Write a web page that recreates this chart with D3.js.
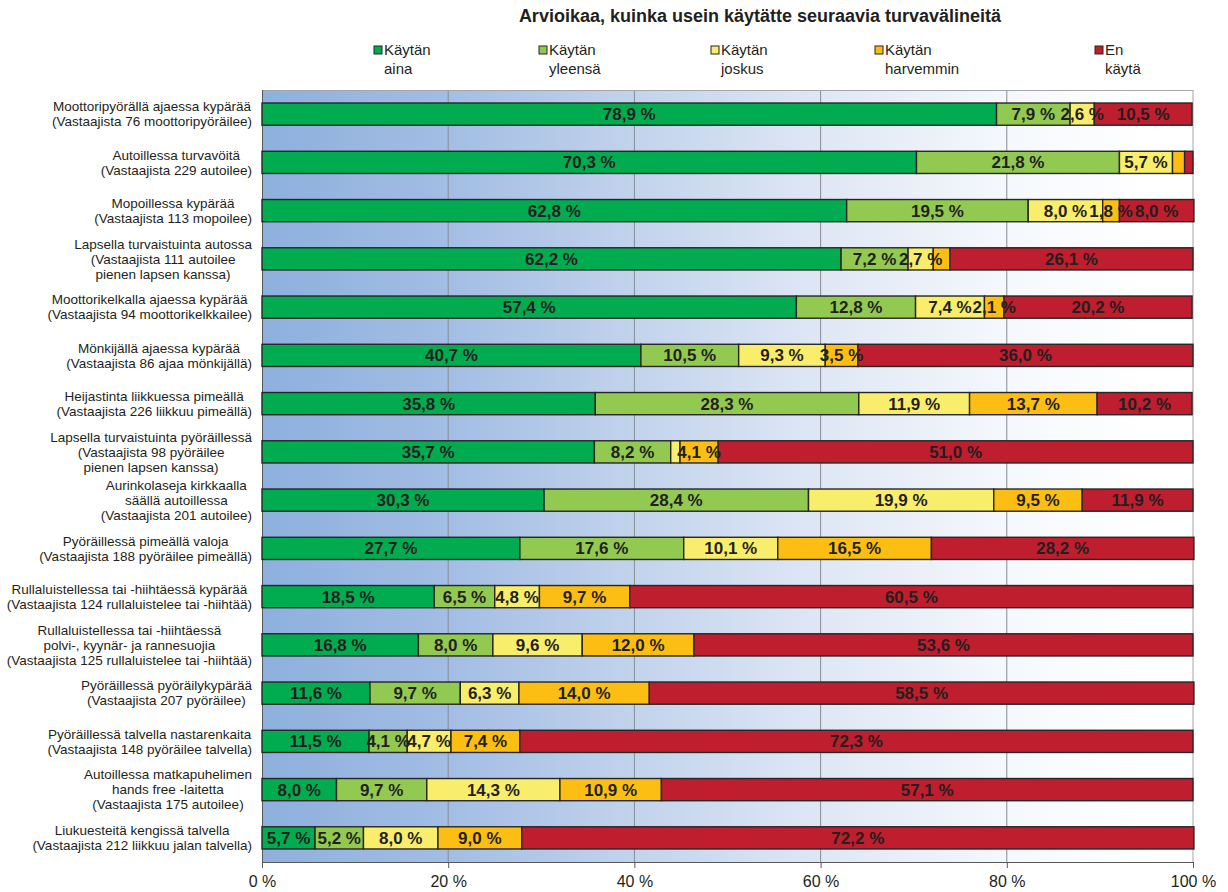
<!DOCTYPE html>
<html>
<head>
<meta charset="utf-8">
<script src="https://cdn.jsdelivr.net/npm/d3@7"></script>
<style>
  html, body { margin: 0; padding: 0; background: #ffffff; }
  svg { display: block; font-family: "Liberation Sans", Arial, sans-serif; }
</style>
</head>
<body>
<svg id="chart" width="1228" height="892"></svg>
<script>
const title = "Arvioikaa, kuinka usein käytätte seuraavia turvavälineitä";

const categories = [
  "Moottoripyörällä ajaessa kypärää\n(Vastaajista 76 moottoripyöräilee)",
  "Autoillessa turvavöitä\n(Vastaajista 229 autoilee)",
  "Mopoillessa kypärää\n(Vastaajista 113 mopoilee)",
  "Lapsella turvaistuinta autossa\n(Vastaajista 111 autoilee\npienen lapsen kanssa)",
  "Moottorikelkalla ajaessa kypärää\n(Vastaajista 94 moottorikelkkailee)",
  "Mönkijällä ajaessa kypärää\n(Vastaajista 86 ajaa mönkijällä)",
  "Heijastinta liikkuessa pimeällä\n(Vastaajista 226 liikkuu pimeällä)",
  "Lapsella turvaistuinta pyöräillessä\n(Vastaajista 98 pyöräilee\npienen lapsen kanssa)",
  "Aurinkolaseja kirkkaalla\nsäällä autoillessa\n(Vastaajista 201 autoilee)",
  "Pyöräillessä pimeällä valoja\n(Vastaajista 188 pyöräilee pimeällä)",
  "Rullaluistellessa tai -hiihtäessä kypärää\n(Vastaajista 124 rullaluistelee tai -hiihtää)",
  "Rullaluistellessa tai -hiihtäessä\npolvi-, kyynär- ja rannesuojia\n(Vastaajista 125 rullaluistelee tai -hiihtää)",
  "Pyöräillessä pyöräilykypärää\n(Vastaajista 207 pyöräilee)",
  "Pyöräillessä talvella nastarenkaita\n(Vastaajista 148 pyöräilee talvella)",
  "Autoillessa matkapuhelimen\nhands free -laitetta\n(Vastaajista 175 autoilee)",
  "Liukuesteitä kengissä talvella\n(Vastaajista 212 liikkuu jalan talvella)"
];

const seriesNames = ["Käytän\naina", "Käytän\nyleensä", "Käytän\njoskus", "Käytän\nharvemmin", "En\nkäytä"];

const kaytanAina      = [78.9, 70.3, 62.8, 62.2, 57.4, 40.7, 35.8, 35.7, 30.3, 27.7, 18.5, 16.8, 11.6, 11.5, 8.0, 5.7];
const kaytanYleensa   = [7.9, 21.8, 19.5, 7.2, 12.8, 10.5, 28.3, 8.2, 28.4, 17.6, 6.5, 8.0, 9.7, 4.1, 9.7, 5.2];
const kaytanJoskus    = [2.6, 5.7, 8.0, 2.7, 7.4, 9.3, 11.9, 1.0, 19.9, 10.1, 4.8, 9.6, 6.3, 4.7, 14.3, 8.0];
const kaytanHarvemmin = [0.0, 1.3, 1.8, 1.8, 2.1, 3.5, 13.7, 4.1, 9.5, 16.5, 9.7, 12.0, 14.0, 7.4, 10.9, 9.0];
const enKayta         = [10.5, 0.9, 8.0, 26.1, 20.2, 36.0, 10.2, 51.0, 11.9, 28.2, 60.5, 53.6, 58.5, 72.3, 57.1, 72.2];

// [row, series] pairs whose data label is not shown in the original
const hiddenLabels = [[0, 3], [1, 3], [1, 4], [3, 3], [7, 2]];

const tickValues = [0, 20, 40, 60, 80, 100];

const seriesValues = [kaytanAina, kaytanYleensa, kaytanJoskus, kaytanHarvemmin, enKayta];
const colors = ["#00ac4f", "#92c951", "#f9ee6c", "#fdbe14", "#be1e2d"];
const ink = "#231f20";

const svg = d3.select("#chart");
const pLeft = 262, pRight = 1193, pTop = 90, pBottom = 862;

const x = d3.scaleLinear().domain([0, 100]).range([pLeft, pRight]);
const y = d3.scaleBand().domain(d3.range(categories.length)).range([pTop, pBottom])
  .paddingInner(0.54).paddingOuter(0.27);

// background gradient
const defs = svg.append("defs");
const grad = defs.append("linearGradient").attr("id", "bg")
  .attr("gradientUnits", "userSpaceOnUse")
  .attr("x1", pLeft).attr("x2", pRight).attr("y1", 0).attr("y2", 0);
[[0, "#8db0dd"], [0.2, "#a3bde4"], [0.4, "#c2d3ec"], [0.6, "#dfe7f5"], [0.8, "#f5f8fc"], [0.95, "#ffffff"], [1, "#ffffff"]]
  .forEach(([o, c]) => grad.append("stop").attr("offset", o).attr("stop-color", c));

svg.append("rect").attr("x", pLeft).attr("y", pTop).attr("width", pRight - pLeft).attr("height", pBottom - pTop)
  .attr("fill", "url(#bg)");

// gridlines
svg.append("g").selectAll("line").data(tickValues.slice(1)).join("line")
  .attr("x1", d => x(d)).attr("x2", d => x(d)).attr("y1", pTop).attr("y2", pBottom)
  .attr("stroke", d => d === 100 ? "#a6a6a6" : "#878c96").attr("stroke-width", 1);

// top border
svg.append("line").attr("x1", pLeft).attr("x2", pRight).attr("y1", pTop + 0.5).attr("y2", pTop + 0.5)
  .attr("stroke", "#a6a6a6");

// x axis
const xAxis = d3.axisBottom(x).tickValues(tickValues).tickSize(6).tickPadding(8)
  .tickFormat(d => d + " %");
const ax = svg.append("g").attr("transform", `translate(0,${pBottom})`).call(xAxis);
ax.select(".domain").attr("stroke", "#595959");
ax.selectAll(".tick line").attr("stroke", "#595959");
ax.selectAll(".tick text").attr("font-size", 16).attr("fill", ink).attr("font-family", "Liberation Sans, Arial, sans-serif");

// left axis line
svg.append("line").attr("x1", pLeft + 0.5).attr("x2", pLeft + 0.5).attr("y1", pTop).attr("y2", pBottom)
  .attr("stroke", "#595959");

// stacked data
const rows = categories.map((c, i) => {
  let acc = 0;
  return seriesValues.map((s, k) => {
    const seg = { row: i, k, v: s[i], x0: acc, x1: acc + s[i] };
    acc += s[i];
    return seg;
  });
});
const segs = rows.flat();

const bars = svg.append("g");
bars.selectAll("rect").data(segs.filter(d => d.v > 0)).join("rect")
  .attr("x", d => x(d.x0)).attr("width", d => x(d.x1) - x(d.x0))
  .attr("y", d => y(d.row)).attr("height", y.bandwidth())
  .attr("fill", d => colors[d.k]).attr("stroke", "#262626").attr("stroke-width", 1.4);

const fmt = d3.format(".1f");
const isHidden = d => d.v <= 0 || hiddenLabels.some(([r, k]) => r === d.row && k === d.k);
svg.append("g").selectAll("text").data(segs.filter(d => !isHidden(d))).join("text")
  .attr("x", d => x((d.x0 + d.x1) / 2))
  .attr("y", d => y(d.row) + y.bandwidth() / 2)
  .attr("dy", "0.36em")
  .attr("text-anchor", "middle")
  .attr("font-size", 17).attr("font-weight", "bold").attr("fill", ink)
  .text(d => fmt(d.v).replace(".", ",") + " %");

// category labels: centered block, right edge at 252
const catG = svg.append("g");
categories.forEach((c, i) => {
  const lines = c.split("\n");
  const t = catG.append("text").attr("font-size", 13.5).attr("fill", ink).attr("text-anchor", "middle");
  const cy = y(i) + y.bandwidth() / 2;
  const lh = 15;
  const spans = lines.map((l, j) => t.append("tspan").text(l)
    .attr("y", cy + (j - (lines.length - 1) / 2) * lh).attr("dy", "0.35em"));
  const maxW = d3.max(spans, s => s.node().getComputedTextLength());
  spans.forEach(s => s.attr("x", 252 - maxW / 2));
});

// title
svg.append("text").attr("x", 760).attr("y", 16).attr("dy", "0.36em").attr("text-anchor", "middle")
  .attr("font-size", 18).attr("font-weight", "bold").attr("fill", ink).text(title);

// legend
const legendX = [374, 539, 711, 875, 1095];
const lg = svg.append("g");
seriesNames.forEach((n, k) => {
  const gx = legendX[k];
  lg.append("rect").attr("x", gx).attr("y", 46).attr("width", 8).attr("height", 8)
    .attr("fill", colors[k]).attr("stroke", "#262626").attr("stroke-width", 1);
  const t = lg.append("text").attr("font-size", 15).attr("fill", ink);
  n.split("\n").forEach((l, j) => t.append("tspan").attr("x", gx + 10).attr("y", 50 + j * 19).attr("dy", "0.36em").text(l));
});
</script>
</body>
</html>
